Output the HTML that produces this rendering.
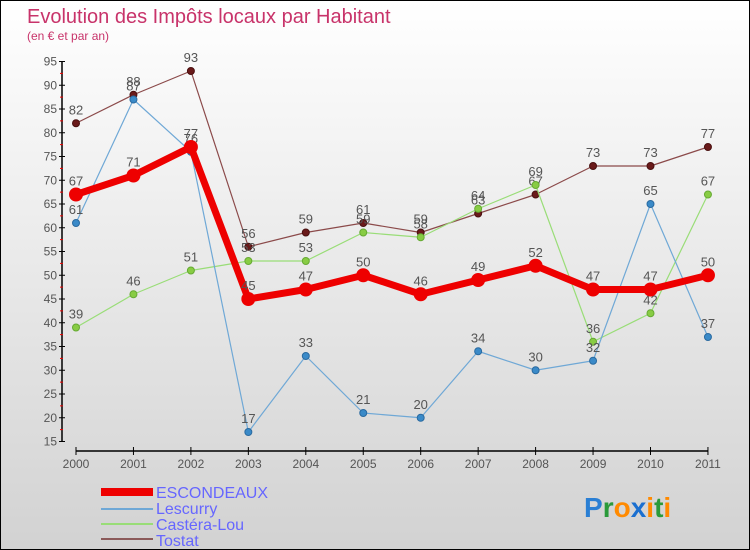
<!DOCTYPE html>
<html><head><meta charset="utf-8"><style>
body{margin:0;}
#c{width:750px;height:550px;position:relative;box-sizing:border-box;border:1px solid #000;background:linear-gradient(#ffffff,#d2d2d2);font-family:"Liberation Sans",sans-serif;overflow:hidden}
text{font-family:"Liberation Sans",sans-serif}
</style></head><body>
<div id="c">
<svg id="s" width="750" height="550" style="position:absolute;left:0;top:0">
<text x="26" y="22" font-size="20" fill="#c8336a">Evolution des Impôts locaux par Habitant</text>
<text x="26" y="39" font-size="12" fill="#c8336a">(en € et par an)</text>
<g id="axes"></g><g id="series"></g>
<g>
<rect x="100" y="487" width="52" height="8" fill="#ee0000"/>
<text x="155" y="497" font-size="16" fill="#6666ff">ESCONDEAUX</text>
<line x1="100" y1="508" x2="152" y2="508" stroke="#6fa8d6" stroke-width="2"/>
<text x="155" y="513" font-size="16" fill="#6666ff">Lescurry</text>
<line x1="100" y1="523" x2="152" y2="523" stroke="#99dd77" stroke-width="2"/>
<text x="155" y="529" font-size="16" fill="#6666ff">Castéra-Lou</text>
<line x1="100" y1="538" x2="152" y2="538" stroke="#8b5a5a" stroke-width="2"/>
<text x="155" y="545" font-size="16" fill="#6666ff">Tostat</text>
</g>
<g font-size="28" font-weight="bold">
<text x="583" y="516"><tspan fill="#2a7fd4">P</tspan><tspan fill="#2a9a3a">r</tspan><tspan fill="#ff8a00">o</tspan><tspan fill="#1a6fd0">x</tspan><tspan fill="#ff8a00">i</tspan><tspan fill="#2a9a3a">t</tspan><tspan fill="#ff8a00">i</tspan></text>
</g>
</svg>
</div>
<script>
const years=["2000","2001","2002","2003","2004","2005","2006","2007","2008","2009","2010","2011"];
const yTicks=[15,20,25,30,35,40,45,50,55,60,65,70,75,80,85,90,95];
const escondeaux=[67,71,77,45,47,50,46,49,52,47,47,50];
const lescurry=[61,87,76,17,33,21,20,34,30,32,65,37];
const castera=[39,46,51,53,53,59,58,64,69,36,42,67];
const tostat=[82,88,93,56,59,61,59,63,67,73,73,77];
const NS="http://www.w3.org/2000/svg";
function X(i){return 75+i*57.45;}
function Y(v){return 440.5-(v-15)*4.75;}
function mk(t,a,p){const e=document.createElementNS(NS,t);for(const k in a)e.setAttribute(k,a[k]);p.appendChild(e);return e;}
const ax=document.getElementById('axes');
const yl=mk('line',{x1:61,y1:Y(95),x2:61,y2:Y(15),stroke:'#000','stroke-width':1.5},ax);


yTicks.forEach(v=>{
 mk('line',{x1:58,y1:Y(v),x2:64,y2:Y(v),stroke:'#000'},ax);
 if(v<95)mk('line',{x1:59,y1:Y(v+2.5),x2:62,y2:Y(v+2.5),stroke:'#e00'},ax);
 const t=mk('text',{x:56,y:Y(v)+4,'font-size':12,fill:'#555','text-anchor':'end'},ax);t.textContent=v;
 
 
});
const xl=mk('line',{x1:X(0),y1:450,x2:X(11),y2:450,stroke:'#000','stroke-width':1.5},ax);


years.forEach((y,i)=>{
 mk('line',{x1:X(i),y1:446,x2:X(i),y2:454,stroke:'#000'},ax);
 const t=mk('text',{x:X(i),y:467,'font-size':12,fill:'#555','text-anchor':'middle'},ax);t.textContent=y;
 
 
});
const sg=document.getElementById('series');
function draw(vals,name,color,w,r,dot,stroke){
 const g=mk('g',{},sg);
 
 
 const l=mk('polyline',{points:vals.map((v,i)=>X(i)+','+Y(v)).join(' '),fill:'none',stroke:color,'stroke-width':w,'stroke-linejoin':'round'},g);
 
 
 vals.forEach((v,i)=>{
  const c=mk('circle',{cx:X(i),cy:Y(v),r:r,fill:dot,stroke:stroke,'stroke-width':1},g);
  
  
  const t=mk('text',{x:X(i),y:Y(v)-9,'font-size':13,fill:'#555','text-anchor':'middle'},g);t.textContent=v;
  
  
 });
}
draw(tostat,'tostat','#8b4a4a',1.2,3.5,'#6a1a1a','#4a1010');
draw(castera,'castera-lou','#99dd77',1.2,3.5,'#88cc44','#66aa33');
draw(lescurry,'lescurry','#6fa8d6',1.2,3.5,'#3a8ac8','#2a6aa0');
draw(escondeaux,'escondeaux','#ee0000',7,6.5,'#ee0000','#ee0000');
</script>
</body></html>
